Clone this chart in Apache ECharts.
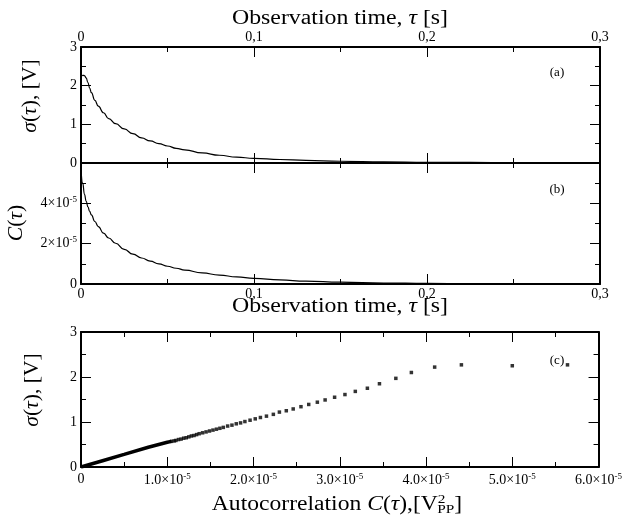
<!DOCTYPE html>
<html>
<head>
<meta charset="utf-8">
<script src="https://cdn.jsdelivr.net/npm/echarts@6/dist/echarts.min.js"></script>
<style>
html, body { margin: 0; padding: 0; background: #fff; }
#chart { width: 625px; height: 519px; }
</style>
</head>
<body>
<div id="chart"></div>
<script>
// observation time tau [s], sigma(tau) [V], C(tau) in units of 1e-5
var tau = [0, 0.001, 0.002, 0.003, 0.004, 0.005, 0.006, 0.008, 0.010, 0.013, 0.016, 0.020, 0.025, 0.030,
  0.035, 0.040, 0.045, 0.050, 0.055, 0.060, 0.070, 0.080, 0.090, 0.100, 0.115, 0.130, 0.150, 0.175,
  0.200, 0.225, 0.250, 0.275, 0.300];
var sigmaTau = [2.22, 2.27, 2.26, 2.20, 2.08, 1.94, 1.82, 1.62, 1.47, 1.30, 1.15, 1.02, 0.88, 0.76,
  0.65, 0.57, 0.50, 0.44, 0.38, 0.34, 0.26, 0.20, 0.15, 0.12, 0.09, 0.07, 0.045, 0.03,
  0.02, 0.014, 0.01, 0.007, 0.005];
var corrTau = [5.7, 5.0, 4.45, 4.1, 3.83, 3.6, 3.43, 3.1, 2.85, 2.52, 2.28, 2.02, 1.72, 1.48,
  1.29, 1.13, 1.0, 0.88, 0.78, 0.69, 0.55, 0.44, 0.35, 0.28, 0.2, 0.14, 0.09, 0.05,
  0.03, 0.02, 0.012, 0.008, 0.005];

// panel (c): sampled points, C in units of 1e-5
var dotC = [5.64, 5.00, 4.41, 4.10, 3.83, 3.65, 3.46, 3.32, 3.18, 3.06, 2.94, 2.83, 2.74, 2.64, 2.55,
  2.46, 2.38, 2.30, 2.23, 2.15, 2.08, 2.02, 1.96, 1.90, 1.85, 1.80, 1.75, 1.70, 1.65, 1.61, 1.57,
  1.53, 1.49, 1.45, 1.41, 1.37, 1.34, 1.31, 1.28, 1.25, 1.22, 1.19, 1.16, 1.13, 1.10, 1.08, 1.05];
var dotSigma = [2.27, 2.25, 2.27, 2.22, 2.10, 1.97, 1.85, 1.75, 1.68, 1.61, 1.55, 1.49, 1.44, 1.39, 1.34,
  1.29, 1.25, 1.22, 1.17, 1.13, 1.10, 1.07, 1.04, 1.01, 0.98, 0.96, 0.93, 0.91, 0.88, 0.86, 0.84,
  0.82, 0.80, 0.78, 0.76, 0.74, 0.72, 0.70, 0.69, 0.67, 0.65, 0.64, 0.62, 0.61, 0.59, 0.58, 0.57];
// the dense run of points near the origin
var denseC = [0, 0.25, 0.5, 0.78, 1.0, 1.05];
var denseSigma = [0, 0.14, 0.28, 0.44, 0.55, 0.57];

var serif = 'Liberation Serif';
var supRich = {
  s: { fontSize: 9, fontFamily: serif, color: '#000', padding: [0, 0, 8, 0] }
};

function zip(a, b) {
  var out = [];
  for (var i = 0; i < a.length; i++) out.push([a[i], b[i]]);
  return out;
}

function timeLabel(v) {
  return String(Math.round(v * 10) / 10).replace('.', ',');
}

function axis(gridIndex, position, min, max, interval, labels, margin) {
  return {
    type: 'value',
    gridIndex: gridIndex,
    position: position,
    min: min,
    max: max,
    interval: interval,
    splitLine: { show: false },
    axisLine: { show: true, onZero: false, lineStyle: { color: '#000', width: 2 } },
    axisTick: { show: true, inside: true, length: 10, lineStyle: { color: '#000', width: 1 } },
    minorTick: { show: true, splitNumber: 2, length: 5, lineStyle: { color: '#000', width: 1 } },
    axisLabel: labels ? {
      show: true, color: '#000', fontFamily: serif, fontSize: 14, margin: margin || 4,
      formatter: labels, rich: supRich, showMinLabel: true, showMaxLabel: true
    } : { show: false }
  };
}

// big axis titles: slightly stretched serif to mimic the wide TeX font
function title(x, y, text, rotate, stretch) {
  return {
    type: 'text', x: x, y: y, rotation: rotate ? Math.PI / 2 : 0, scaleX: stretch, scaleY: 1,
    style: {
      text: text, fontFamily: serif, fontSize: 20, fill: '#000',
      align: 'center', verticalAlign: 'middle',
      rich: {
        i: { fontFamily: serif, fontSize: 20, fontStyle: 'italic' },
        p: { fontFamily: serif, fontSize: 13, padding: [0, 0, 10, 0] },
        b: { fontFamily: serif, fontSize: 13, padding: [9, 0, 0, -7] }
      }
    }
  };
}

function tag(x, y, text) {
  return {
    type: 'text', x: x, y: y,
    style: { text: text, fontFamily: serif, fontSize: 13, fill: '#000', align: 'center', verticalAlign: 'middle' }
  };
}

var chart = echarts.init(document.getElementById('chart'));

var option = {
  animation: false,
  backgroundColor: '#fff',
  grid: [
    { left: 81, top: 47, width: 519, height: 116 },
    { left: 81, top: 163, width: 519, height: 121 },
    { left: 81, top: 332, width: 520, height: 135 }
  ],
  xAxis: [
    axis(0, 'bottom', 0, 0.3, 0.1, null),
    axis(0, 'top', 0, 0.3, 0.1, timeLabel, 3),
    axis(1, 'bottom', 0, 0.3, 0.1, timeLabel, 3),
    axis(1, 'top', 0, 0.3, 0.1, null),
    axis(2, 'bottom', 0, 6, 1, function (v) {
      return v === 0 ? '0' : v.toFixed(1) + '×10{s|-5}';
    }, 5),
    axis(2, 'top', 0, 6, 1, null)
  ],
  yAxis: [
    axis(0, 'left', 0, 3, 1, function (v) { return String(v); }),
    axis(0, 'right', 0, 3, 1, null),
    axis(1, 'left', 0, 6, 2, function (v) {
      if (v === 0) return '0';
      if (v >= 6) return '';
      return v + '×10{s|-5}';
    }),
    axis(1, 'right', 0, 6, 2, null),
    axis(2, 'left', 0, 3, 1, function (v) { return String(v); }),
    axis(2, 'right', 0, 3, 1, null)
  ],
  series: [
    {
      type: 'line', xAxisIndex: 0, yAxisIndex: 0, data: zip(tau, sigmaTau),
      smooth: true, smoothMonotone: 'x', showSymbol: false,
      lineStyle: { color: '#000', width: 1.2 }
    },
    {
      type: 'line', xAxisIndex: 2, yAxisIndex: 2, data: zip(tau, corrTau),
      smooth: true, smoothMonotone: 'x', showSymbol: false,
      lineStyle: { color: '#000', width: 1.2 }
    },
    {
      type: 'line', xAxisIndex: 4, yAxisIndex: 4, data: zip(denseC, denseSigma),
      showSymbol: false, lineStyle: { color: '#000', width: 3.5 }
    },
    {
      type: 'scatter', xAxisIndex: 4, yAxisIndex: 4, data: zip(dotC, dotSigma),
      symbol: 'rect', symbolSize: 3.5, itemStyle: { color: '#000' }
    }
  ],
  graphic: [
    title(340, 19, 'Observation time, {i|τ} [s]', false, 1.19),
    title(340, 307, 'Observation time, {i|τ} [s]', false, 1.19),
    title(337, 505, 'Autocorrelation {i|C}({i|τ}),[V{p|2}{b|PP}]', false, 1.18),
    title(31, 96, '{i|σ}({i|τ}), [V]', true, 1.08),
    title(17, 223, '{i|C}({i|τ})', true, 1.08),
    title(33, 390, '{i|σ}({i|τ}), [V]', true, 1.08),
    tag(557, 73, '(a)'),
    tag(557, 190, '(b)'),
    tag(557, 361, '(c)')
  ]
};

chart.setOption(option);
</script>
</body>
</html>
